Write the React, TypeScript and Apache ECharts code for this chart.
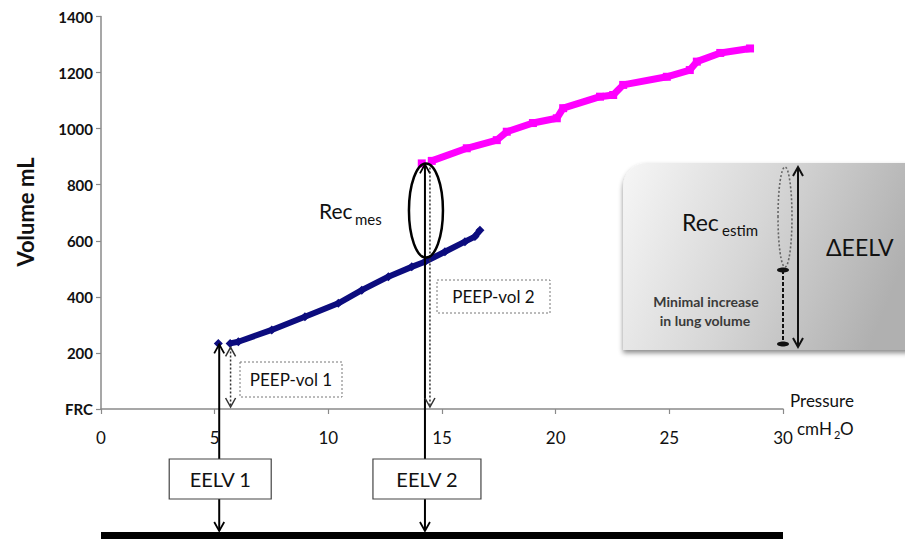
import React, { useEffect, useRef } from "react";
import * as echarts from "echarts";

// ---- data ----
const xTickValues = [0, 5, 10, 15, 20, 25, 30];
const yTickLabels = ["FRC", "200", "400", "600", "800", "1000", "1200", "1400"];

// PEEP 5 step (blue) – null marks the small gap after the first point
const bluePressure = [5.16, 5.42, 5.68, 6.04, 7.51, 8.97, 10.44, 11.47, 12.64, 13.67, 14.25, 15.13, 16.01, 16.45, 16.67];
const blueVolume = [234, null, 234, 240, 282, 329, 377, 424, 472, 507, 525, 561, 597, 615, 638];

// PEEP 15 step (magenta)
const magentaPressure = [14.11, 14.33, 14.55, 16.09, 17.41, 17.85, 19.0, 20.05, 20.33, 21.95, 22.53, 22.97, 24.89, 25.9, 26.21, 27.24, 28.55];
const magentaVolume = [876, null, 885, 930, 959, 989, 1020, 1037, 1073, 1114, 1120, 1156, 1185, 1209, 1239, 1270, 1286];

// annotation anchors (pressure cmH2O, volume mL)
const eelv1Pressure = 5.2;
const peep1Pressure = 5.7;
const eelv1Volume = 234;
const eelv2Pressure = 14.25;
const peep2Pressure = 14.47;
const eelv2Volume = 876;
const recMesLow = 540;

const FONT = "Lato, 'Open Sans', 'Noto Sans', sans-serif";

const toData = (p: number[], v: (number | null)[]) =>
  p.map((x, i) => (v[i] === null ? [x, "-"] : [x, v[i]]));

export default function App() {
  const ref = useRef<HTMLDivElement>(null);

  useEffect(() => {
    const chart = echarts.init(ref.current!, null, { renderer: "svg" });
    const axisColor = "#8a8a8a";
    chart.setOption({
      animation: false,
      grid: { left: 101, right: 122, top: 16.5, bottom: 131 },
      xAxis: {
        type: "value",
        min: xTickValues[0],
        max: xTickValues[xTickValues.length - 1],
        interval: 5,
        axisLine: { lineStyle: { color: axisColor, width: 1.5 } },
        axisTick: { length: 5, lineStyle: { color: axisColor, width: 1.2 } },
        splitLine: { show: false },
        axisLabel: { fontFamily: FONT, fontSize: 17, color: "#111", margin: 20 },
      },
      yAxis: {
        type: "value",
        min: 0,
        max: 1400,
        interval: 200,
        axisLine: { show: true, lineStyle: { color: axisColor, width: 1.5 } },
        axisTick: { show: true, length: 5, lineStyle: { color: axisColor, width: 1.2 } },
        splitLine: { show: false },
        axisLabel: {
          fontFamily: FONT,
          fontSize: 15,
          fontWeight: "bold",
          color: "#111",
          margin: 8,
          formatter: (v: number) => yTickLabels[Math.round(v / 200)],
        },
      },
      series: [
        {
          type: "line",
          data: toData(bluePressure, blueVolume),
          symbol: "diamond",
          symbolSize: 9,
          showAllSymbol: true,
          connectNulls: false,
          lineStyle: { width: 6, color: "#0c0c7e" },
          itemStyle: { color: "#0c0c7e" },
          z: 3,
        },
        {
          type: "line",
          data: toData(magentaPressure, magentaVolume),
          symbol: "rect",
          symbolSize: 8,
          showAllSymbol: true,
          connectNulls: false,
          lineStyle: { width: 7, color: "#ff00ff" },
          itemStyle: { color: "#ff00ff" },
          z: 3,
        },
      ],
    });

    const toPx = (p: number, v: number) =>
      chart.convertToPixel({ gridIndex: 0 }, [p, v]) as number[];

    const [x0, axisY] = toPx(0, 0);
    const [x30] = toPx(30, 0);
    const [e1x, e1y] = toPx(eelv1Pressure, eelv1Volume);
    const [p1x] = toPx(peep1Pressure, 0);
    const [e2x, e2y] = toPx(eelv2Pressure, eelv2Volume);
    const [p2x] = toPx(peep2Pressure, 0);
    const [, recLowY] = toPx(0, recMesLow);

    const black = "#000";
    const chevron = (x: number, y: number, up: boolean, color = black, w = 1.8) => ({
      type: "polyline",
      z: 20,
      shape: {
        points: up
          ? [[x - 5, y + 9], [x, y], [x + 5, y + 9]]
          : [[x - 5, y - 9], [x, y], [x + 5, y - 9]],
      },
      style: { stroke: color, lineWidth: w, fill: null },
    });
    const vline = (x: number, y1: number, y2: number, style: any) => ({
      type: "line",
      z: 20,
      shape: { x1: x, y1, x2: x, y2 },
      style,
    });
    const text = (x: number, y: number, t: string, size: number, extra: any = {}) => ({
      type: "text",
      z: 25,
      x,
      y,
      style: {
        text: t,
        fontFamily: FONT,
        fontSize: size,
        fill: "#111",
        align: "left",
        verticalAlign: "middle",
        ...extra,
      },
    });

    const boxTop = 459;
    const boxBottom = 499;
    const barTop = 532;
    const solid = { stroke: black, lineWidth: 2 };
    const dotted = { stroke: "#333", lineWidth: 1.5, lineDash: [2, 2] };

    const eelvBox = (cx: number, w: number, label: string) => [
      {
        type: "rect",
        z: 22,
        shape: { x: cx - w / 2, y: boxTop, width: w, height: boxBottom - boxTop },
        style: { fill: "#fff", stroke: "#444", lineWidth: 1.2 },
      },
      text(cx, (boxTop + boxBottom) / 2, label, 20, { align: "center" }),
    ];
    const peepBox = (x: number, y: number, w: number, h: number, label: string) => [
      {
        type: "rect",
        z: 22,
        shape: { x, y, width: w, height: h },
        style: { fill: "#fff", stroke: "#777", lineWidth: 1, lineDash: [2, 2] },
      },
      text(x + w / 2, y + h / 2, label, 17, { align: "center" }),
    ];

    // inset box coordinates
    const gx = 623;
    const gy = 163;
    const ellCx = 785;
    const arrowX = 798;

    const graphic: any[] = [
      // y-axis title
      {
        type: "text",
        x: 25,
        y: 212,
        rotation: Math.PI / 2,
        style: {
          text: "Volume mL",
          fontFamily: FONT,
          fontSize: 22,
          fontWeight: "bold",
          fill: "#111",
          align: "center",
          verticalAlign: "middle",
        },
      },
      // x-axis name
      text(790, 400, "Pressure", 17),
      text(797, 428, "cmH", 17),
      text(834, 434, "2", 11),
      text(840, 428, "O", 17),

      // EELV 1 solid arrow
      vline(e1x, boxTop, e1y + 1, solid),
      chevron(e1x, e1y + 1, true),
      vline(e1x, boxBottom, barTop - 1, solid),
      chevron(e1x, barTop - 1, false),
      // PEEP-vol 1 dotted arrow
      vline(p1x, e1y + 4, axisY - 2, dotted),
      chevron(p1x, e1y + 4, true, "#333", 1.5),
      chevron(p1x, axisY - 2, false, "#333", 1.5),

      // EELV 2 solid arrow
      vline(e2x, boxTop, e2y + 1, solid),
      chevron(e2x, e2y + 1, true),
      vline(e2x, boxBottom, barTop - 1, solid),
      chevron(e2x, barTop - 1, false),
      // PEEP-vol 2 dotted arrow
      vline(p2x, e2y + 4, axisY - 2, dotted),
      chevron(p2x, axisY - 2, false, "#333", 1.5),

      // Rec_mes ellipse + label
      {
        type: "ellipse",
        z: 21,
        shape: { cx: e2x + 1, cy: (e2y + recLowY) / 2, rx: 17, ry: (recLowY - e2y) / 2 },
        style: { fill: null, stroke: black, lineWidth: 2.5 },
      },
      text(319, 210, "Rec", 21),
      text(355, 219, "mes", 15),

      ...peepBox(240, 362, 102, 35, "PEEP-vol 1"),
      ...peepBox(437, 280, 113, 33, "PEEP-vol 2"),
      ...eelvBox(e1x + 1, 102, "EELV 1"),
      ...eelvBox(e2x + 2, 108, "EELV 2"),

      // bottom bar
      {
        type: "rect",
        z: 19,
        shape: { x: x0, y: barTop, width: x30 - x0, height: 7 },
        style: { fill: "#000" },
      },

      // inset gray box
      {
        type: "rect",
        z: 1,
        shape: { x: gx, y: gy, width: 905 - gx + 20, height: 187, r: [24, 0, 0, 0] },
        style: {
          fill: {
            type: "linear",
            x: 0,
            y: 0,
            x2: 1,
            y2: 0.25,
            colorStops: [
              { offset: 0, color: "#f6f6f6" },
              { offset: 0.5, color: "#d6d6d6" },
              { offset: 1, color: "#b0b0b0" },
            ],
          },
          shadowBlur: 5,
          shadowOffsetY: 3,
          shadowColor: "rgba(0,0,0,0.45)",
        },
      },
      {
        type: "ellipse",
        z: 21,
        shape: { cx: ellCx, cy: 217, rx: 7, ry: 50 },
        style: { fill: null, stroke: "#666", lineWidth: 1.6, lineDash: [2, 2] },
      },
      vline(783, 270, 344, { stroke: "#111", lineWidth: 2, lineDash: [4, 2] }),
      {
        type: "ellipse",
        z: 21,
        shape: { cx: 783, cy: 270, rx: 6, ry: 2.5 },
        style: { fill: "#111" },
      },
      {
        type: "ellipse",
        z: 21,
        shape: { cx: 783, cy: 344, rx: 6, ry: 2.5 },
        style: { fill: "#111" },
      },
      vline(arrowX, 167, 347, { stroke: "#111", lineWidth: 2 }),
      chevron(arrowX, 167, true, "#111", 2),
      chevron(arrowX, 347, false, "#111", 2),
      text(682, 222, "Rec", 23),
      text(722, 230, "estim", 15),
      text(826, 247, "\u0394EELV", 23),
      text(706, 301, "Minimal increase", 14, { align: "center", fill: "#3a3a3a", fontWeight: "bold" }),
      text(705, 320, "in lung volume", 14, { align: "center", fill: "#3a3a3a", fontWeight: "bold" }),
    ];

    chart.setOption({ graphic });
    return () => chart.dispose();
  }, []);

  return (
    <div
      ref={ref}
      style={{ position: "fixed", left: 0, top: 0, width: 905, height: 540, background: "#fff" }}
    />
  );
}
